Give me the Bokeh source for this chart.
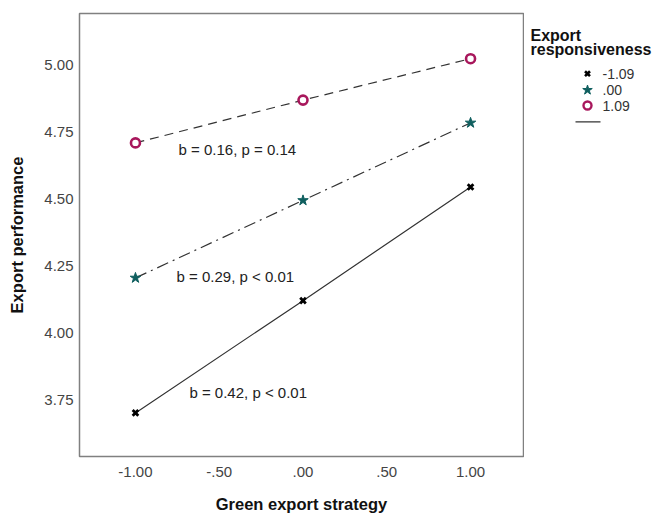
from bokeh.plotting import figure
from bokeh.layouts import row
from bokeh.models import Range1d, FixedTicker
from bokeh.core.properties import value
from bokeh.embed import file_html
from bokeh.resources import INLINE

# ---- data ----
strategy = [-1.0, 0.0, 1.0]
resp_low = [3.70, 4.12, 4.545]     # Export responsiveness -1.09
resp_mid = [4.205, 4.495, 4.785]   # .00
resp_high = [4.71, 4.87, 5.025]    # 1.09
legend_labels = ["-1.09", ".00", "1.09"]

x_ticks = [-1.0, -0.5, 0.0, 0.5, 1.0]
x_tick_labels = ["-1.00", "-.50", ".00", ".50", "1.00"]
y_ticks = [3.75, 4.0, 4.25, 4.5, 4.75, 5.0]
y_tick_labels = ["3.75", "4.00", "4.25", "4.50", "4.75", "5.00"]

ann_text = ["b = 0.16, p = 0.14", "b = 0.29, p < 0.01", "b = 0.42, p < 0.01"]
ann_x = [-0.743, -0.755, -0.678]
ann_y = [4.684, 4.21, 3.776]

FONT = "Liberation Sans"
C_LOW = "#000000"
C_MID = "#0f5f5f"
C_HIGH = "#a8175c"
LINE_C = "#333333"

p = figure(width=524, height=515, output_backend="svg", toolbar_location=None,
           x_range=Range1d(-1.334, 1.316), y_range=Range1d(3.537, 5.194),
           min_border_left=79, min_border_right=1, min_border_top=13, min_border_bottom=58)
p.grid.visible = False
p.outline_line_color = "#808080"
p.outline_line_width = 1.5
p.background_fill_color = "white"
p.border_fill_color = "white"

for ax in (p.xaxis[0], p.yaxis[0]):
    ax.axis_line_color = None
    ax.major_tick_line_color = None
    ax.minor_tick_line_color = None
    ax.major_tick_out = 0
    ax.major_tick_in = 0
    ax.major_label_text_font = FONT
    ax.major_label_text_font_size = "15px"
    ax.major_label_text_color = "#444444"
    ax.axis_label_text_font = FONT
    ax.axis_label_text_font_size = "16.5px"
    ax.axis_label_text_font_style = "bold"
    ax.axis_label_text_color = "#111111"

p.xaxis.ticker = FixedTicker(ticks=x_ticks)
p.xaxis.major_label_overrides = dict(zip(x_ticks, x_tick_labels))
p.yaxis.ticker = FixedTicker(ticks=y_ticks)
p.yaxis.major_label_overrides = dict(zip(y_ticks, y_tick_labels))
p.xaxis.axis_label = "Green export strategy"
p.yaxis.axis_label = "Export performance"
p.xaxis.major_label_standoff = 10
p.xaxis.axis_label_standoff = 15
p.yaxis.major_label_standoff = 6
p.yaxis.axis_label_standoff = 15

# lines
p.line(strategy, resp_low, line_color=LINE_C, line_width=1.2)
p.line(strategy, resp_mid, line_color=LINE_C, line_width=1.2, line_dash="12 5 2 5")
p.line(strategy, resp_high, line_color=LINE_C, line_width=1.2, line_dash="9 6")

# markers
p.scatter(strategy, resp_low, marker="x", size=8, line_color=C_LOW, line_width=2.8)
p.scatter(strategy, resp_mid, marker="star", size=11, fill_color=C_MID, line_color=C_MID, line_width=1)
p.scatter(strategy, resp_high, marker="circle", size=9, fill_color="white", line_color=C_HIGH, line_width=2.6)

p.text(x=ann_x, y=ann_y, text=ann_text, text_font=value(FONT), text_font_size="15px",
       text_color="#222222", text_baseline="middle", text_align="left")

# ---- legend panel ----
lg = figure(width=135, height=515, output_backend="svg", toolbar_location=None,
            x_range=Range1d(0, 135), y_range=Range1d(515, 0),
            min_border=0)
lg.axis.visible = False
lg.grid.visible = False
lg.outline_line_color = None
lg.border_fill_color = "white"
lg.background_fill_color = "white"

lg.text(x=[6, 6], y=[26, 42], text=["Export", "responsiveness"], text_font=value(FONT),
        text_font_size="16px", text_font_style="bold", text_color="#111111",
        text_baseline="middle", text_align="left")
rows_y = [70, 89, 107]
lg.scatter([63], [rows_y[0]], marker="x", size=7, line_color=C_LOW, line_width=2.6)
lg.scatter([63], [rows_y[1]], marker="star", size=10, fill_color=C_MID, line_color=C_MID)
lg.scatter([63], [rows_y[2]], marker="circle", size=8, fill_color="white", line_color=C_HIGH, line_width=2.4)
lg.text(x=[78, 78, 78], y=rows_y, text=legend_labels, text_font=value(FONT),
        text_font_size="14px", text_color="#333333", text_baseline="middle", text_align="left")
lg.line([51, 76], [126, 126], line_color=LINE_C, line_width=1.2)

layout = row(p, lg)
open("out.html", "w").write(file_html(layout, INLINE))
